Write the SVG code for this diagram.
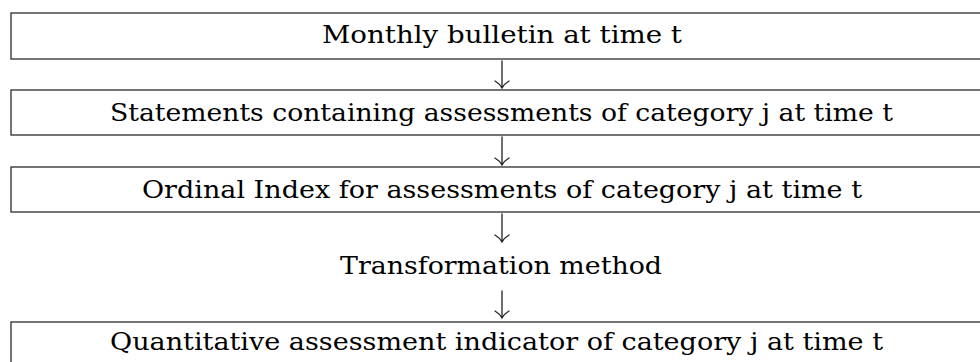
<svg xmlns="http://www.w3.org/2000/svg" width="980" height="362" viewBox="0 0 980 362">
<style>
.box{fill:#fff;stroke:#2b2b2b;stroke-width:1.3}
.lbl{font-family:"DejaVu Serif","Liberation Serif",serif;font-size:25px;fill:#000}
.arr{fill:none;stroke:#222;stroke-width:1.3;stroke-linecap:round}
</style>
<rect width="980" height="362" fill="#fff"/>
<g id="n1">
<rect class="box" x="11" y="13" width="990" height="46"/>
<text class="lbl" x="322" y="43" textLength="360" lengthAdjust="spacingAndGlyphs">Monthly bulletin at time t</text>
</g>
<g id="n2">
<rect class="box" x="11" y="90" width="990" height="45"/>
<text class="lbl" x="110" y="121" textLength="783" lengthAdjust="spacingAndGlyphs">Statements containing assessments of category j at time t</text>
</g>
<g id="n3">
<rect class="box" x="11" y="167" width="990" height="45"/>
<text class="lbl" x="142" y="198" textLength="720" lengthAdjust="spacingAndGlyphs">Ordinal Index for assessments of category j at time t</text>
</g>
<g id="n4">
<text class="lbl" x="340" y="274" textLength="322" lengthAdjust="spacingAndGlyphs">Transformation method</text>
</g>
<g id="n5">
<rect class="box" x="11" y="322" width="990" height="50"/>
<text class="lbl" x="110" y="350" textLength="773" lengthAdjust="spacingAndGlyphs">Quantitative assessment indicator of category j at time t</text>
</g>
<g id="connectors">
<path class="arr" d="M502 61V88M495 81Q500 84 502 88Q504 84 509 81"/>
<path class="arr" d="M502 137V165M495 158Q500 161 502 165Q504 161 509 158"/>
<path class="arr" d="M502 214V242M495 235Q500 238 502 242Q504 238 509 235"/>
<path class="arr" d="M502 291V318M495 311Q500 314 502 318Q504 314 509 311"/>
</g>
</svg>
